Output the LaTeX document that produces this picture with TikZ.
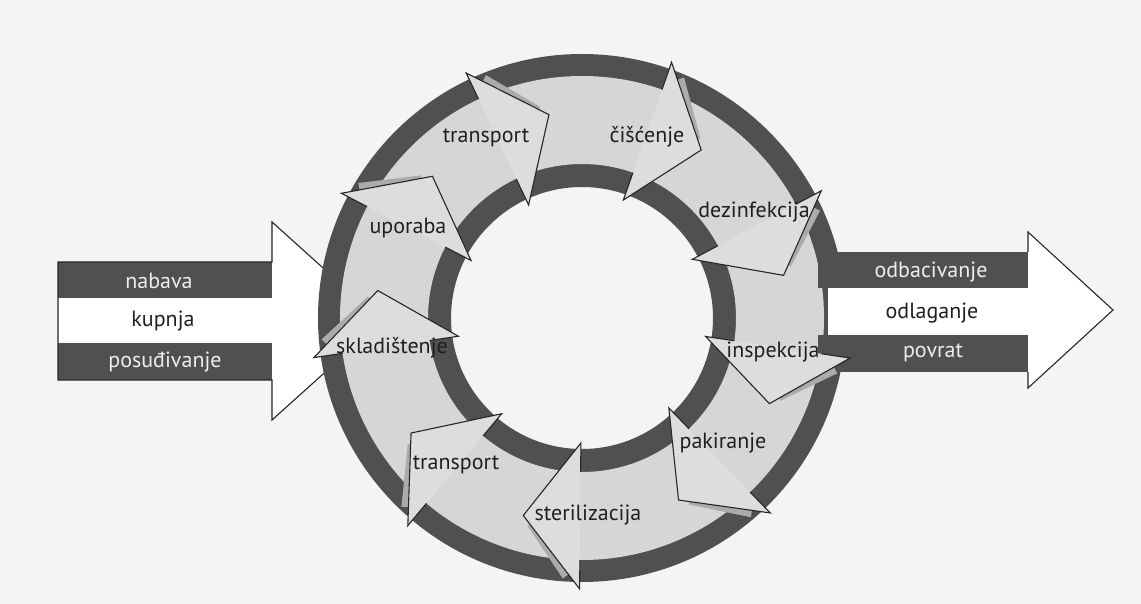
\documentclass[tikz,border=0pt]{standalone}
\usepackage{fontspec}
\setmainfont{PT Sans}
\usetikzlibrary{calc}
\definecolor{bgc}{HTML}{F4F4F4}
\definecolor{darkc}{HTML}{505050}
\definecolor{bandc}{HTML}{D6D6D6}
\definecolor{headc}{HTML}{DDDDDD}
\definecolor{shadec}{HTML}{ABABAB}
\definecolor{txtc}{HTML}{202020}
\definecolor{lightt}{HTML}{EDEDED}
\begin{document}
\begin{tikzpicture}[x=1pt,y=-1pt,
  lbl/.style={font=\fontsize{22}{25}\selectfont, text=txtc, inner sep=0pt},
  wlbl/.style={lbl, text=lightt},
  edge/.style={draw=black!85, line width=1.1pt, line join=miter},
]
\useasboundingbox (0,0) rectangle (1141,604);
\fill[bgc] (0,0) rectangle (1141,604);
\coordinate (C) at (582,318);
% ---------- left (input) arrow
\path[fill=white] (58,262) -- (272,262) -- (272,222) -- (382,321) -- (272,420) -- (272,380) -- (58,380) -- cycle;
\fill[darkc] (58,262) rectangle (272,298);
\fill[darkc] (58,343) rectangle (272,380);
\draw[edge] (58,262) -- (272,262) -- (272,222) -- (382,321) -- (272,420) -- (272,380) -- (58,380) -- cycle;
\node[wlbl] (nabava) at (159,281) {nabava};
\node[lbl] (kupnja) at (163,321) {kupnja};
\node[wlbl] (posudivanje) at (165,362) {posuđivanje};
% ---------- rings
\fill[darkc, even odd rule] (C) circle (264pt) (C) circle (131pt);
\fill[bandc, even odd rule] (C) circle (242pt) (C) circle (154pt);
% ---------- right (output) arrow
\fill[darkc] (818,252) rectangle (1028,288);
\fill[darkc] (818,335) rectangle (1028,372);
\fill[white] (828,288) rectangle (1028,335);
\draw[edge, fill=white] (1028,252) -- (1028,232) -- (1113,310) -- (1028,388) -- (1028,372);
\node[wlbl] (odbacivanje) at (931,272) {odbacivanje};
\node[lbl] (odlaganje) at (932,313) {odlaganje};
\node[wlbl] (povrat) at (933,353) {povrat};
% ---------- arrow heads of the cycle
\foreach \a in {115.3, 70.7, 28, -8.5, -46, -90.5, -130, -171.6, 152.6} {
  \coordinate (M) at ($(C)+(\a:198pt)$);
  \coordinate (O) at ($(C)+(\a:271pt)$);
  \coordinate (I) at ($(C)+(\a:125pt)$);
  \coordinate (Bo) at ($(C)+(\a:242pt)$);
  \coordinate (Bi) at ($(C)+(\a:154pt)$);
  \coordinate (T) at ($(M)+({\a-90}:57pt)$);
  \fill[shadec] ($(T)!0.12!(O)$) -- ($(T)!0.8!(O)$) -- ($(T)!0.8!(O)+({\a-52}:7pt)$) -- ($(T)!0.12!(O)+({\a-52}:3pt)$) -- cycle;
  \fill[headc] (O) -- (T) -- (I) -- cycle;
  \draw[edge] (Bo) -- (O) -- (T) -- (I) -- (Bi);
}
% ---------- labels
\node[lbl] (transportA) at (486,138) {transport};
\node[lbl] (ciscenje) at (647,137) {čišćenje};
\node[lbl] (dezinfekcija) at (754,212) {dezinfekcija};
\node[lbl] (inspekcija) at (773,352) {inspekcija};
\node[lbl] (pakiranje) at (723,443) {pakiranje};
\node[lbl] (sterilizacija) at (588,515) {sterilizacija};
\node[lbl] (transportB) at (456,465) {transport};
\node[lbl] (skladistenje) at (392,348) {skladištenje};
\node[lbl] (uporaba) at (408,228) {uporaba};
\end{tikzpicture}
\end{document}
